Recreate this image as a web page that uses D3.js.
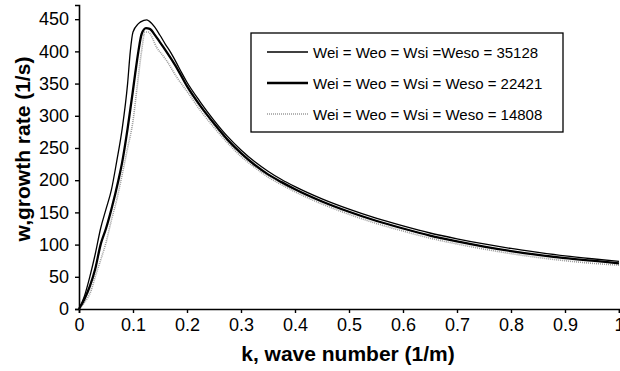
<!DOCTYPE html>
<html>
<head>
<meta charset="utf-8">
<script src="https://d3js.org/d3.v7.min.js"></script>
<style>
body{margin:0;background:#fff;}
text{font-family:"Liberation Sans",Arial,sans-serif;}
</style>
</head>
<body>
<script>
//DATA
var k_35128=[0,0.01,0.02,0.03,0.04,0.05,0.06,0.07,0.08,0.09,0.095,0.1,0.11,0.12,0.125,0.13,0.14,0.15,0.16,0.17,0.18,0.19,0.2,0.225,0.25,0.275,0.3,0.325,0.35,0.375,0.4,0.45,0.5,0.55,0.6,0.65,0.7,0.75,0.8,0.85,0.9,0.95,1.0];
var w_35128=[0,20,50,85,125,155,185,230,280,350,400,430,443,448,449,447,438,425,411,398,383,367,352,321,293,268,247,229,214,201,190,171,155,141,129,118,109,101,94,88,82.5,78,74];

var k_22421=[0,0.01,0.02,0.03,0.04,0.05,0.06,0.073,0.08,0.09,0.1,0.104,0.11,0.116,0.124,0.131,0.14,0.15,0.16,0.18,0.2,0.225,0.25,0.275,0.3,0.325,0.35,0.375,0.4,0.45,0.5,0.55,0.6,0.65,0.7,0.75,0.8,0.85,0.9,0.95,1.0];
var w_22421=[0,15,35,62,100,125,155,200,228,280,340,365,400,427,436,435,426,414,402,376,346,315,288,263,242,224,209,197,186,167,151,137,125,114,105,97,90,84,79,75,71];

var k_14808=[0,0.01,0.023,0.03,0.042,0.05,0.06,0.07,0.079,0.09,0.1,0.107,0.116,0.122,0.128,0.144,0.162,0.181,0.2,0.225,0.25,0.275,0.3,0.325,0.35,0.375,0.4,0.45,0.5,0.55,0.6,0.65,0.7,0.75,0.8,0.85,0.9,0.95,1.0];
var w_14808=[0,10,30,50,81,103,138,170,205,250,292,340,401,430,430,406,386,360,338,308,282,258,237,220,205,193,182,163,147,133,121,110,101,93,86,80,75,71,68];

var legend_labels=["Wei = Weo = Wsi =Weso = 35128","Wei = Weo = Wsi = Weso = 22421","Wei = Weo = Wsi = Weso = 14808"];
var x_ticks=[0,0.1,0.2,0.3,0.4,0.5,0.6,0.7,0.8,0.9,1];
var y_ticks=[0,50,100,150,200,250,300,350,400,450];

var series=[
  {k:k_35128,w:w_35128,stroke:"#000",width:1.3,dash:null},
  {k:k_22421,w:w_22421,stroke:"#000",width:2.3,dash:null},
  {k:k_14808,w:w_14808,stroke:"#9a9a9a",width:1.6,dash:"1,1"}
];

//CANVAS
var svg_width=620, svg_height=371;

var svg=d3.select("body")
.append("svg")
.attr("width",svg_width)
.attr("height",svg_height);

var x=d3.scaleLinear().domain([0,1]).range([79,619]);
var y=d3.scaleLinear().domain([0,472]).range([309,5]);

//AXES
var xAxis=svg.append("g")
.attr("transform","translate(0,"+y(0)+")")
.call(d3.axisBottom(x).tickValues(x_ticks).tickSize(4).tickPadding(4)
  .tickFormat(function(d){return d3.format("")(+d.toFixed(1))}));

var yAxis=svg.append("g")
.attr("transform","translate("+x(0)+",0)")
.call(d3.axisLeft(y).tickValues(y_ticks).tickSize(4).tickPadding(6));

[xAxis,yAxis].forEach(function(a){
  a.select(".domain").attr("stroke","#000").attr("stroke-width",1.6);
  a.selectAll(".tick line").attr("stroke","#000").attr("stroke-width",1.4);
  a.selectAll(".tick text").attr("fill","#000").style("font-size","18px")
   .style("font-family","'Liberation Sans',Arial,sans-serif");
});
xAxis.selectAll(".tick text").attr("dy","0.75em");

//CURVES
var line=d3.line()
.x(function(d){return x(d[0])})
.y(function(d){return y(d[1])})
.curve(d3.curveMonotoneX);

svg.selectAll("path.curve")
.data(series.slice().reverse())
.enter()
.append("path")
.attr("class","curve")
.attr("fill","none")
.attr("stroke",function(d){return d.stroke})
.attr("stroke-width",function(d){return d.width})
.attr("stroke-dasharray",function(d){return d.dash})
.attr("d",function(d){return line(d.k.map(function(v,i){return [v,d.w[i]]}))});

//AXIS TITLES
svg.append("text")
.attr("x",348)
.attr("y",361)
.attr("text-anchor","middle")
.style("font-size","21px")
.style("font-weight","bold")
.text("k, wave number (1/m)");

svg.append("text")
.attr("transform","translate(30,149) rotate(-90)")
.attr("text-anchor","middle")
.style("font-size","21px")
.style("font-weight","bold")
.text("w,growth rate (1/s)");

//LEGEND
var legend=svg.append("g");

legend.append("rect")
.attr("x",251).attr("y",33)
.attr("width",312).attr("height",99)
.attr("fill","#fff")
.attr("stroke","#000")
.attr("stroke-width",1.3);

var rows=legend.selectAll("g.row")
.data(series)
.enter()
.append("g")
.attr("class","row")
.attr("transform",function(d,i){return "translate(0,"+(52+i*31)+")"});

rows.append("line")
.attr("x1",267).attr("x2",308)
.attr("y1",0).attr("y2",0)
.attr("stroke",function(d){return d.stroke})
.attr("stroke-width",function(d){return d.width})
.attr("stroke-dasharray",function(d){return d.dash});

rows.append("text")
.attr("x",313)
.attr("y",5.5)
.style("font-size","15px")
.text(function(d,i){return legend_labels[i]});
</script>
</body>
</html>
